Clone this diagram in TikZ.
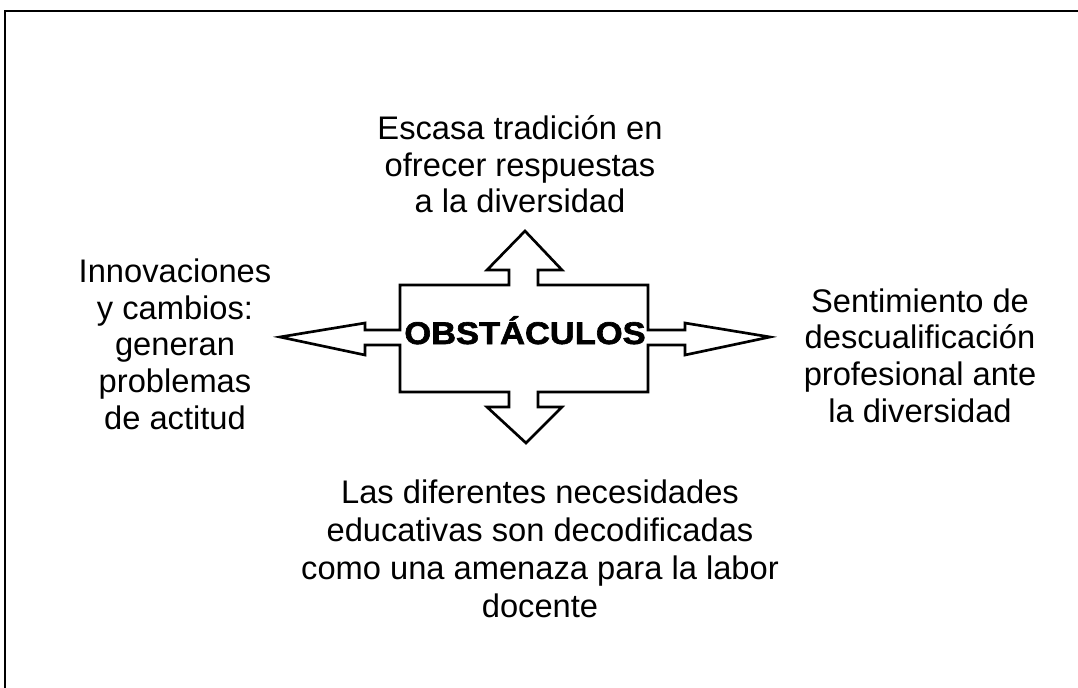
\documentclass[tikz,border=0pt]{standalone}
\usepackage{fontspec}
\setmainfont{Liberation Sans}
\newfontfamily\obsfont[FakeStretch=1.1,FakeBold=2]{Liberation Sans Bold}
\begin{document}
\begin{tikzpicture}[x=0.75pt,y=-0.75pt,
  lab/.style={font=\fontsize{24.5pt}{27.5pt}\selectfont, align=center, inner sep=0pt, anchor=base},
  frame/.style={line width=2.2pt},
  cross/.style={line width=2pt, line join=miter, fill=white}]
\useasboundingbox (0,0) rectangle (1078,688);
% frame (only top and left edges visible)
\draw[frame] (1080,11) -- (5,11) -- (5,690);
% central cross of arrows
\draw[cross] (525,231) -- (562,270) -- (538,270) -- (538,285) -- (648,285) -- (648,330)
  -- (685,330) -- (685,323) -- (770,337) -- (685,355) -- (685,345) -- (648,345)
  -- (648,392) -- (538,392) -- (538,407) -- (562,407) -- (526,443) -- (487,407)
  -- (509,407) -- (509,392) -- (400,392) -- (400,345) -- (365,345) -- (365,355)
  -- (280,337) -- (365,323) -- (365,330) -- (400,330) -- (400,285) -- (509,285)
  -- (509,270) -- (487,270) -- cycle;
\node[inner sep=0pt, anchor=base, font=\obsfont\fontsize{23.5pt}{24pt}\selectfont] (obs) at (525,344) {OBSTÁCULOS};
% labels (anchor base = baseline of last line)
\node[lab] (top) at (520,213) {Escasa tradición en\\ofrecer respuestas\\a la diversidad};
\node[lab] (left) at (175,429) {Innovaciones\\y cambios:\\generan\\problemas\\de actitud};
\node[lab] (right) at (920,422) {Sentimiento de\\descualificación\\profesional ante\\la diversidad};
\node[lab, font=\fontsize{24.5pt}{28.5pt}\selectfont] (bottom) at (540,617) {Las diferentes necesidades\\educativas son decodificadas\\como una amenaza para la labor\\docente};
\end{tikzpicture}
\end{document}
